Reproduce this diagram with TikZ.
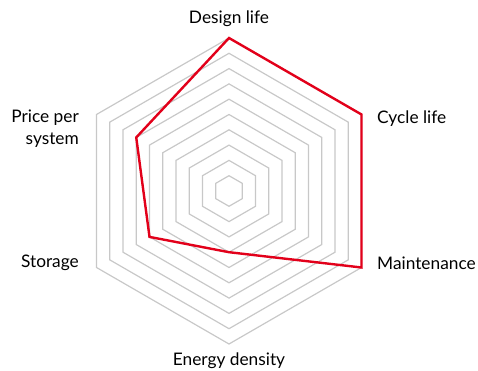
\documentclass[tikz,border=0pt]{standalone}
\usepackage{fontspec}
\setmainfont{Lato}
\usetikzlibrary{calc}
\definecolor{ringgrey}{RGB}{200,200,200}
\definecolor{abbred}{RGB}{226,0,26}
\tikzstyle{ring}=[draw=ringgrey,line width=1.2pt]
\tikzstyle{score}=[draw=abbred,line width=2.4pt,line join=miter]
\tikzstyle{axislabel}=[inner sep=0pt,font=\fontsize{17.3}{22}\selectfont]

\begin{document}
\begin{tikzpicture}[x=1pt,y=1pt]

   \useasboundingbox (0,0) rectangle (478,371);

   % Rings

   \coordinate (c) at (229,180);
   \foreach \k in {1,...,10} {
      \draw[ring] ($(c)+(90:15.3*\k)$) -- ($(c)+(30:15.3*\k)$) --
($(c)+(-30:15.3*\k)$) -- ($(c)+(-90:15.3*\k)$) -- ($(c)+(-150:15.3*\k)$) --
($(c)+(150:15.3*\k)$) -- cycle;
   }

   % Scores

   \draw[score] ($(c)+(90:153)$) coordinate(design) -- ($(c)+(30:153)$)
coordinate(cycle) -- ($(c)+(-30:153)$) coordinate(maint) --
($(c)+(-90:61.2)$) coordinate(energy) -- ($(c)+(-150:91.8)$)
coordinate(storage) -- ($(c)+(150:107.1)$) coordinate(price) -- cycle;

   % Labels

   \node[axislabel] (ldesign) at (229,352) {Design life};
   \node[axislabel,anchor=west] (lcycle) at (377,252) {Cycle life};
   \node[axislabel,anchor=west] (lmaint) at (377,108) {Maintenance};
   \node[axislabel] (lenergy) at (229,10) {Energy density};
   \node[axislabel,anchor=east] (lstorage) at (79,108) {Storage};
   \node[axislabel,anchor=east,align=right] (lprice) at (79,242)
{Price per\\system};

\end{tikzpicture}
\end{document}
